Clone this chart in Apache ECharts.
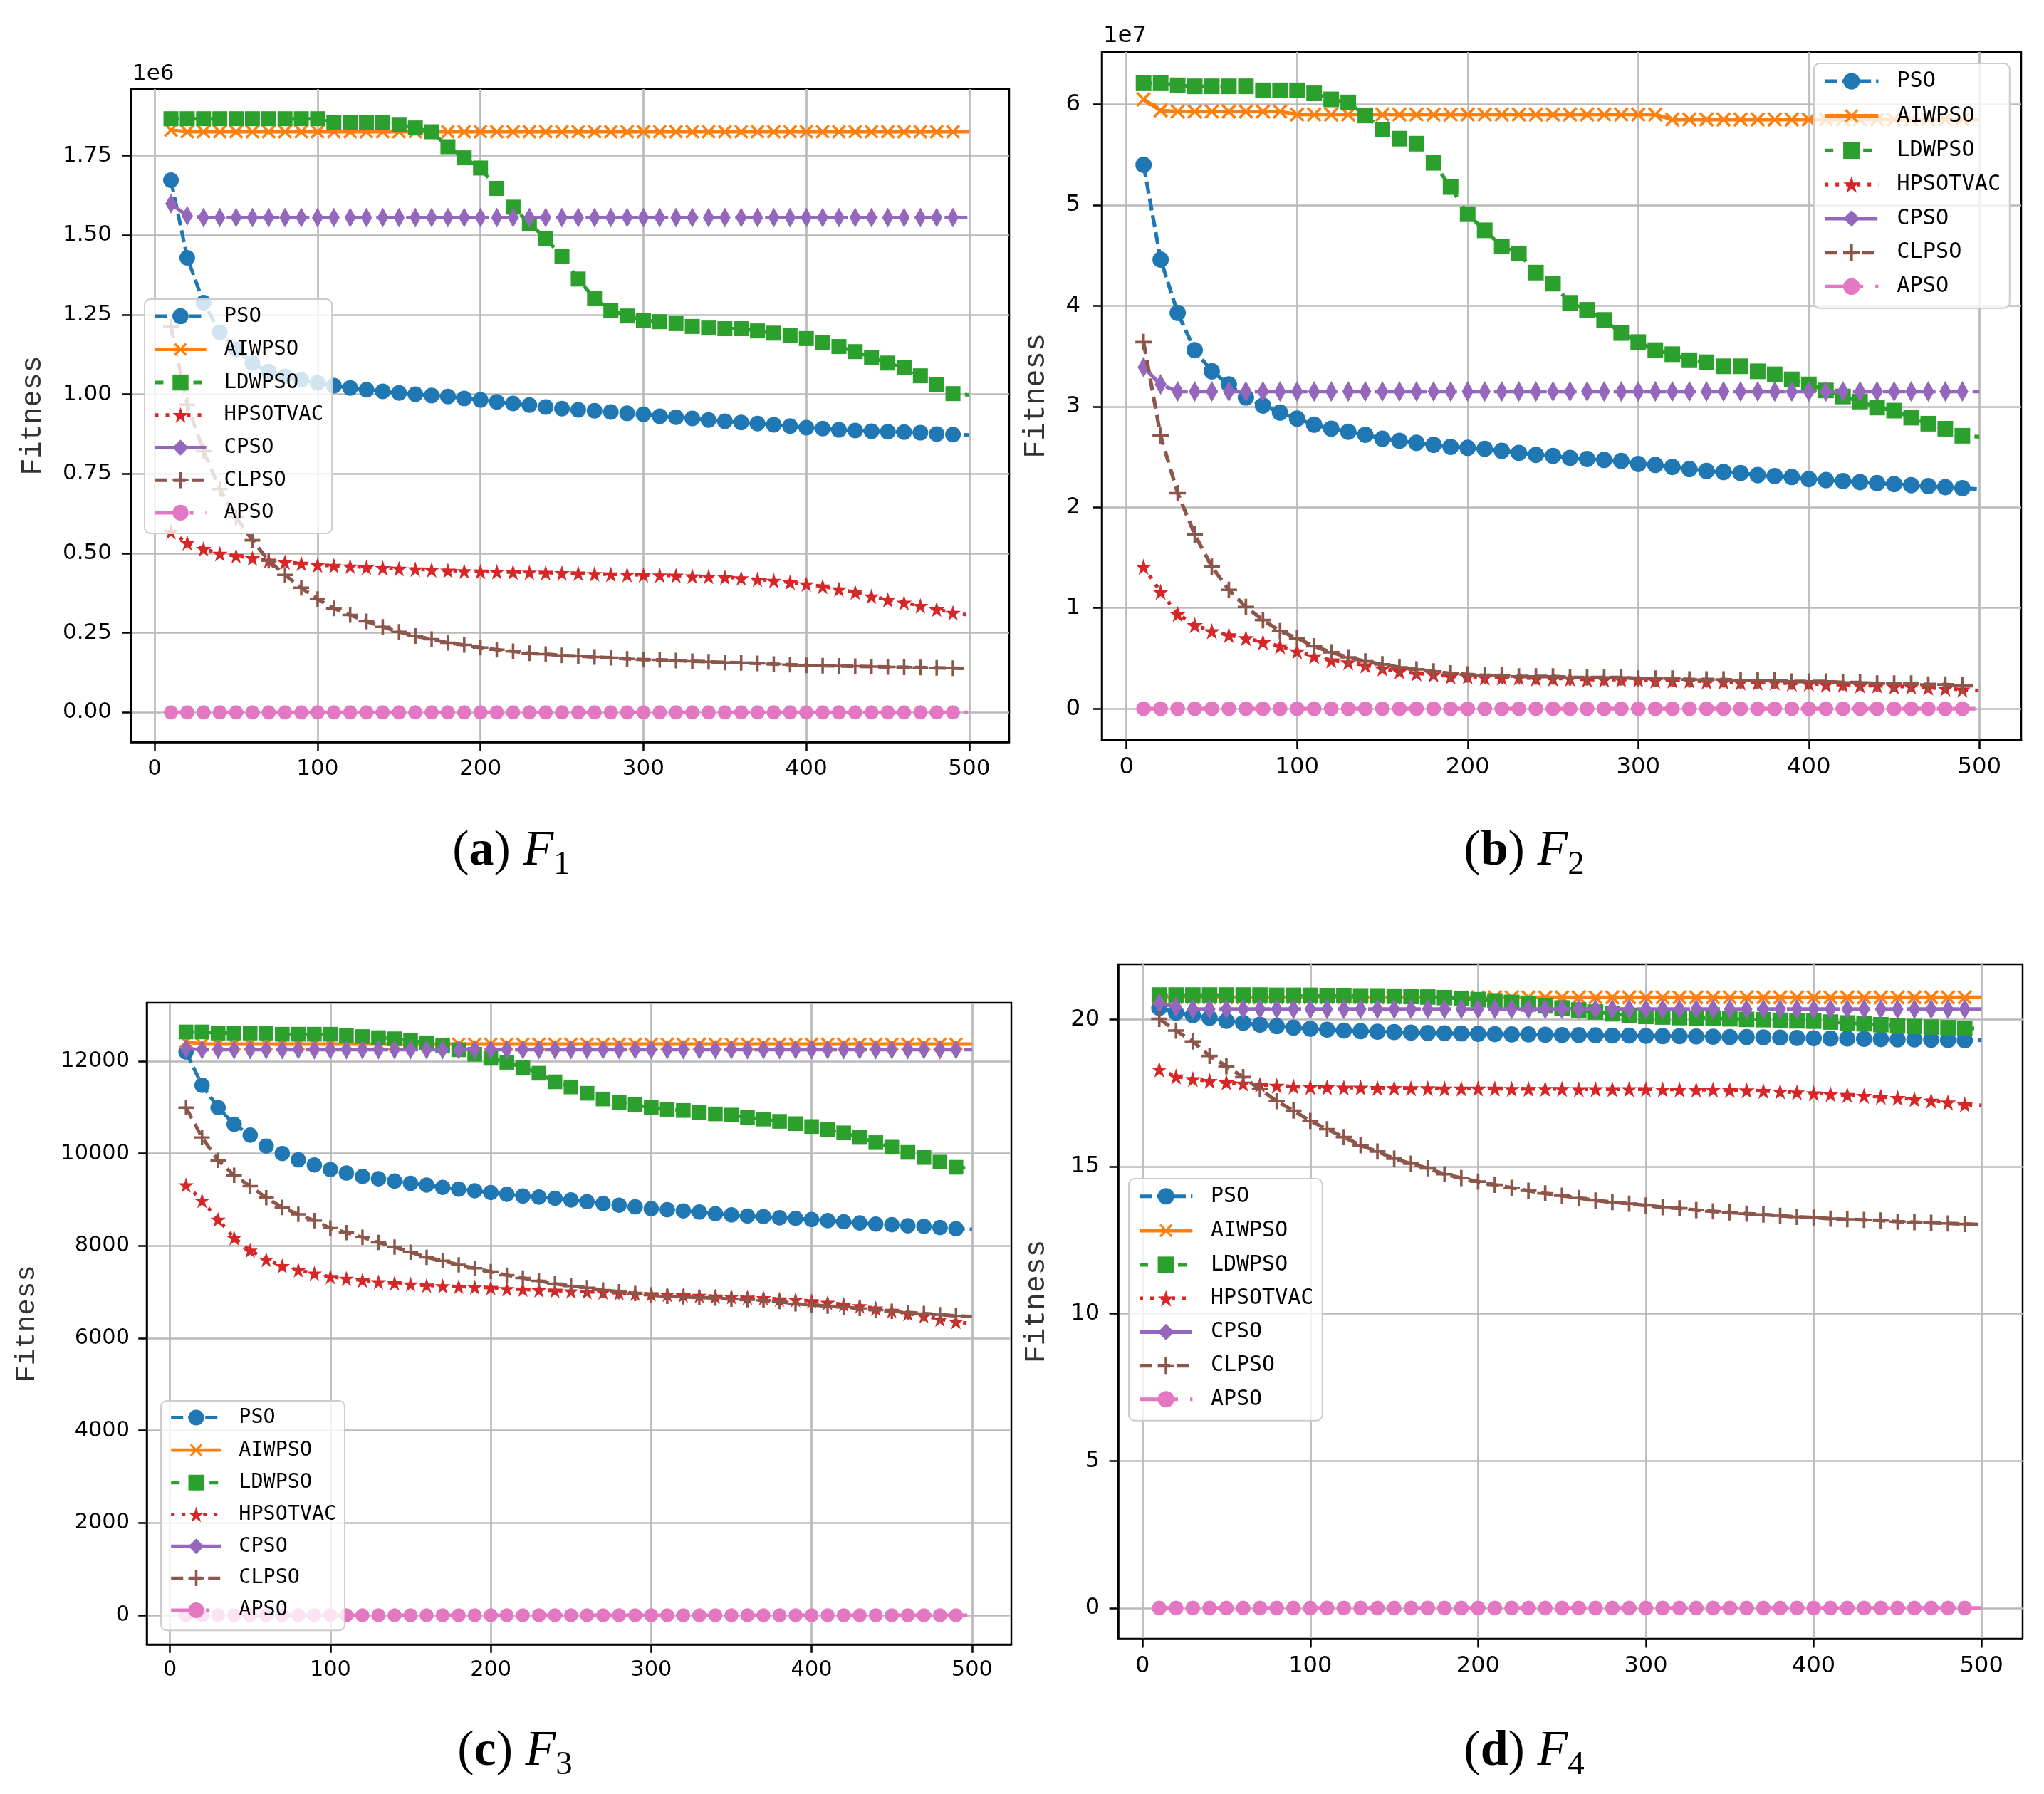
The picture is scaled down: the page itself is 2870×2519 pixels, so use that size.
<!DOCTYPE html>
<html lang="en">
<head>
<meta charset="UTF-8">
<script src="https://cdn.jsdelivr.net/npm/echarts@6/dist/echarts.min.js"></script>
<style>
  html, body { margin: 0; padding: 0; background: #fff; }
  #container { width: 2870px; height: 2519px; }
</style>
</head>
<body>
<div id="container"></div>
<script>
// iterations where the curves are sampled (marker every 10)
var iters = [10, 20, 30, 40, 50, 60, 70, 80, 90, 100,
  110, 120, 130, 140, 150, 160, 170, 180, 190, 200,
  210, 220, 230, 240, 250, 260, 270, 280, 290, 300,
  310, 320, 330, 340, 350, 360, 370, 380, 390, 400,
  410, 420, 430, 440, 450, 460, 470, 480, 490, 500];

var algos = ['PSO', 'AIWPSO', 'LDWPSO', 'HPSOTVAC', 'CPSO', 'CLPSO', 'APSO'];
var xTicks = [0, 100, 200, 300, 400, 500];

// ---- F1 (values in units of 1e6) ----
var yTicksF1 = [0, 0.25, 0.5, 0.75, 1.0, 1.25, 1.5, 1.75];
var f1PSO = [1.673, 1.429, 1.288, 1.195, 1.141, 1.098, 1.071, 1.056, 1.045, 1.036,
  1.027, 1.020, 1.014, 1.009, 1.004, 1.000, 0.996, 0.993, 0.987, 0.982,
  0.976, 0.971, 0.966, 0.960, 0.955, 0.951, 0.948, 0.944, 0.940, 0.937,
  0.931, 0.928, 0.924, 0.919, 0.915, 0.911, 0.908, 0.904, 0.900, 0.895,
  0.892, 0.888, 0.886, 0.884, 0.882, 0.881, 0.879, 0.875, 0.873, 0.872];
var f1AIWPSO = [1.830, 1.825, 1.825, 1.825, 1.825, 1.825, 1.825, 1.825, 1.825, 1.825,
  1.825, 1.825, 1.825, 1.825, 1.825, 1.825, 1.825, 1.825, 1.825, 1.825,
  1.825, 1.825, 1.825, 1.825, 1.825, 1.825, 1.825, 1.825, 1.825, 1.825,
  1.825, 1.825, 1.825, 1.825, 1.825, 1.825, 1.825, 1.825, 1.825, 1.825,
  1.825, 1.825, 1.825, 1.825, 1.825, 1.825, 1.825, 1.825, 1.825, 1.825];
var f1LDWPSO = [1.866, 1.866, 1.866, 1.866, 1.866, 1.866, 1.866, 1.866, 1.866, 1.866,
  1.853, 1.853, 1.853, 1.853, 1.848, 1.837, 1.825, 1.778, 1.743, 1.711,
  1.647, 1.588, 1.537, 1.490, 1.434, 1.362, 1.300, 1.264, 1.246, 1.233,
  1.228, 1.222, 1.213, 1.208, 1.206, 1.206, 1.199, 1.192, 1.184, 1.175,
  1.163, 1.150, 1.134, 1.116, 1.098, 1.083, 1.058, 1.031, 1.002, 0.998];
var f1HPSOTVAC = [0.568, 0.533, 0.514, 0.499, 0.492, 0.485, 0.477, 0.472, 0.468, 0.463,
  0.461, 0.459, 0.456, 0.454, 0.452, 0.450, 0.448, 0.446, 0.444, 0.443,
  0.442, 0.441, 0.440, 0.439, 0.438, 0.437, 0.435, 0.434, 0.433, 0.432,
  0.431, 0.430, 0.428, 0.427, 0.425, 0.422, 0.418, 0.414, 0.409, 0.403,
  0.396, 0.387, 0.378, 0.365, 0.354, 0.345, 0.335, 0.324, 0.313, 0.306];
var f1CPSO = [1.599, 1.561, 1.555, 1.555, 1.555, 1.555, 1.555, 1.555, 1.555, 1.555,
  1.555, 1.555, 1.555, 1.555, 1.555, 1.555, 1.555, 1.555, 1.555, 1.555,
  1.555, 1.555, 1.555, 1.555, 1.555, 1.555, 1.555, 1.555, 1.555, 1.555,
  1.555, 1.555, 1.555, 1.555, 1.555, 1.555, 1.555, 1.555, 1.555, 1.555,
  1.555, 1.555, 1.555, 1.555, 1.555, 1.555, 1.555, 1.555, 1.555, 1.555];
var f1CLPSO = [1.213, 0.967, 0.821, 0.702, 0.613, 0.541, 0.477, 0.432, 0.392, 0.356,
  0.327, 0.306, 0.286, 0.269, 0.253, 0.240, 0.230, 0.219, 0.212, 0.204,
  0.197, 0.192, 0.186, 0.183, 0.179, 0.177, 0.174, 0.172, 0.168, 0.166,
  0.165, 0.163, 0.161, 0.159, 0.157, 0.156, 0.154, 0.152, 0.150, 0.148,
  0.147, 0.146, 0.145, 0.144, 0.143, 0.142, 0.141, 0.140, 0.139, 0.138];
var f1APSO = [0, 0, 0, 0, 0, 0, 0, 0, 0, 0, 0, 0, 0, 0, 0, 0, 0, 0, 0, 0, 0, 0, 0, 0, 0,
  0, 0, 0, 0, 0, 0, 0, 0, 0, 0, 0, 0, 0, 0, 0, 0, 0, 0, 0, 0, 0, 0, 0, 0, 0];

// ---- F2 (values in units of 1e7) ----
var yTicksF2 = [0, 1, 2, 3, 4, 5, 6];
var f2PSO = [5.40, 4.46, 3.93, 3.56, 3.35, 3.22, 3.09, 3.01, 2.94, 2.88,
  2.82, 2.78, 2.75, 2.72, 2.68, 2.66, 2.64, 2.62, 2.60, 2.59,
  2.58, 2.56, 2.54, 2.52, 2.51, 2.49, 2.48, 2.47, 2.46, 2.43,
  2.42, 2.40, 2.38, 2.36, 2.35, 2.34, 2.32, 2.31, 2.30, 2.28,
  2.27, 2.26, 2.25, 2.24, 2.23, 2.22, 2.21, 2.20, 2.19, 2.18];
var f2AIWPSO = [6.05, 5.94, 5.93, 5.93, 5.93, 5.93, 5.93, 5.93, 5.93, 5.90,
  5.90, 5.90, 5.90, 5.90, 5.90, 5.90, 5.90, 5.90, 5.90, 5.90,
  5.90, 5.90, 5.90, 5.90, 5.90, 5.90, 5.90, 5.90, 5.90, 5.90,
  5.90, 5.85, 5.85, 5.85, 5.85, 5.85, 5.85, 5.85, 5.85, 5.85,
  5.85, 5.85, 5.85, 5.85, 5.85, 5.85, 5.85, 5.85, 5.85, 5.85];
var f2LDWPSO = [6.21, 6.21, 6.19, 6.18, 6.18, 6.18, 6.18, 6.14, 6.14, 6.14,
  6.11, 6.05, 6.02, 5.89, 5.75, 5.66, 5.61, 5.42, 5.18, 4.91,
  4.75, 4.59, 4.52, 4.33, 4.22, 4.03, 3.96, 3.86, 3.73, 3.64,
  3.56, 3.52, 3.46, 3.44, 3.40, 3.40, 3.35, 3.32, 3.27, 3.22,
  3.16, 3.10, 3.05, 2.99, 2.96, 2.89, 2.83, 2.78, 2.71, 2.70];
var f2HPSOTVAC = [1.41, 1.16, 0.94, 0.83, 0.77, 0.73, 0.70, 0.66, 0.62, 0.57,
  0.52, 0.48, 0.46, 0.43, 0.40, 0.37, 0.35, 0.34, 0.32, 0.32,
  0.31, 0.31, 0.31, 0.30, 0.30, 0.30, 0.29, 0.29, 0.29, 0.29,
  0.28, 0.28, 0.28, 0.27, 0.27, 0.26, 0.26, 0.26, 0.25, 0.25,
  0.24, 0.24, 0.23, 0.23, 0.22, 0.22, 0.21, 0.20, 0.19, 0.18];
var f2CPSO = [3.39, 3.22, 3.15, 3.15, 3.15, 3.15, 3.15, 3.15, 3.15, 3.15,
  3.15, 3.15, 3.15, 3.15, 3.15, 3.15, 3.15, 3.15, 3.15, 3.15,
  3.15, 3.15, 3.15, 3.15, 3.15, 3.15, 3.15, 3.15, 3.15, 3.15,
  3.15, 3.15, 3.15, 3.15, 3.15, 3.15, 3.15, 3.15, 3.15, 3.15,
  3.15, 3.15, 3.15, 3.15, 3.15, 3.15, 3.15, 3.15, 3.15, 3.15];
var f2CLPSO = [3.64, 2.71, 2.14, 1.73, 1.41, 1.18, 1.01, 0.88, 0.77, 0.70,
  0.62, 0.56, 0.51, 0.47, 0.44, 0.41, 0.39, 0.37, 0.35, 0.34,
  0.33, 0.33, 0.32, 0.32, 0.32, 0.31, 0.31, 0.31, 0.31, 0.30,
  0.30, 0.30, 0.29, 0.29, 0.29, 0.28, 0.28, 0.28, 0.27, 0.27,
  0.27, 0.26, 0.26, 0.25, 0.25, 0.25, 0.24, 0.24, 0.23, 0.23];
var f2APSO = [0, 0, 0, 0, 0, 0, 0, 0, 0, 0, 0, 0, 0, 0, 0, 0, 0, 0, 0, 0, 0, 0, 0, 0, 0,
  0, 0, 0, 0, 0, 0, 0, 0, 0, 0, 0, 0, 0, 0, 0, 0, 0, 0, 0, 0, 0, 0, 0, 0, 0];

// ---- F3 ----
var yTicksF3 = [0, 2000, 4000, 6000, 8000, 10000, 12000];
var f3PSO = [12200, 11478, 10994, 10634, 10398, 10161, 10000, 9863, 9752, 9652,
  9578, 9503, 9453, 9404, 9354, 9317, 9267, 9230, 9193, 9155,
  9118, 9081, 9056, 9031, 8994, 8957, 8919, 8882, 8845, 8807,
  8783, 8758, 8733, 8696, 8671, 8646, 8634, 8609, 8596, 8571,
  8547, 8522, 8497, 8472, 8460, 8435, 8422, 8398, 8373, 8360];
var f3AIWPSO = [12420, 12370, 12370, 12370, 12370, 12370, 12370, 12370, 12370, 12370,
  12370, 12370, 12370, 12370, 12370, 12370, 12370, 12370, 12370, 12370,
  12370, 12370, 12370, 12370, 12370, 12370, 12370, 12370, 12370, 12370,
  12370, 12370, 12370, 12370, 12370, 12370, 12370, 12370, 12370, 12370,
  12370, 12370, 12370, 12370, 12370, 12370, 12370, 12370, 12370, 12370];
var f3LDWPSO = [12633, 12633, 12609, 12609, 12609, 12609, 12584, 12584, 12584, 12584,
  12559, 12534, 12510, 12485, 12447, 12398, 12335, 12248, 12149, 12062,
  11975, 11863, 11739, 11553, 11441, 11304, 11180, 11106, 11056, 10994,
  10957, 10932, 10894, 10857, 10832, 10783, 10745, 10696, 10646, 10584,
  10522, 10447, 10348, 10236, 10137, 10025, 9913, 9814, 9702, 9680];
var f3HPSOTVAC = [9317, 8981, 8571, 8174, 7901, 7702, 7565, 7478, 7404, 7329,
  7292, 7255, 7217, 7193, 7168, 7143, 7130, 7118, 7106, 7093,
  7068, 7056, 7043, 7031, 7019, 7006, 6994, 6981, 6969, 6957,
  6944, 6932, 6919, 6907, 6894, 6882, 6870, 6845, 6832, 6807,
  6770, 6733, 6696, 6646, 6596, 6534, 6484, 6410, 6360, 6311];
var f3CPSO = [12273, 12248, 12248, 12248, 12248, 12248, 12248, 12248, 12248, 12248,
  12248, 12248, 12248, 12248, 12248, 12248, 12248, 12248, 12248, 12248,
  12248, 12248, 12248, 12248, 12248, 12248, 12248, 12248, 12248, 12248,
  12248, 12248, 12248, 12248, 12248, 12248, 12248, 12248, 12248, 12248,
  12248, 12248, 12248, 12248, 12248, 12248, 12248, 12248, 12248, 12248];
var f3CLPSO = [10994, 10348, 9851, 9528, 9292, 9043, 8832, 8683, 8547, 8385,
  8286, 8186, 8075, 7975, 7863, 7752, 7677, 7590, 7516, 7441,
  7366, 7304, 7242, 7180, 7130, 7093, 7043, 7006, 6969, 6932,
  6907, 6894, 6882, 6870, 6845, 6832, 6820, 6795, 6745, 6720,
  6696, 6671, 6646, 6609, 6584, 6559, 6534, 6509, 6484, 6472];
var f3APSO = [0, 0, 0, 0, 0, 0, 0, 0, 0, 0, 0, 0, 0, 0, 0, 0, 0, 0, 0, 0, 0, 0, 0, 0, 0,
  0, 0, 0, 0, 0, 0, 0, 0, 0, 0, 0, 0, 0, 0, 0, 0, 0, 0, 0, 0, 0, 0, 0, 0, 0];

// ---- F4 ----
var yTicksF4 = [0, 5, 10, 15, 20];
var f4PSO = [20.39, 20.23, 20.14, 20.05, 19.95, 19.88, 19.82, 19.77, 19.72, 19.68,
  19.65, 19.62, 19.60, 19.58, 19.57, 19.55, 19.54, 19.53, 19.52, 19.51,
  19.50, 19.49, 19.49, 19.48, 19.47, 19.47, 19.46, 19.45, 19.45, 19.44,
  19.43, 19.43, 19.42, 19.41, 19.40, 19.40, 19.39, 19.38, 19.37, 19.36,
  19.35, 19.35, 19.34, 19.33, 19.32, 19.32, 19.31, 19.30, 19.29, 19.29];
var f4AIWPSO = [20.75, 20.75, 20.75, 20.75, 20.75, 20.75, 20.75, 20.75, 20.75, 20.75,
  20.75, 20.75, 20.75, 20.75, 20.75, 20.75, 20.75, 20.75, 20.75, 20.75,
  20.75, 20.75, 20.75, 20.75, 20.75, 20.75, 20.75, 20.75, 20.75, 20.75,
  20.75, 20.75, 20.75, 20.75, 20.75, 20.75, 20.75, 20.75, 20.75, 20.75,
  20.75, 20.75, 20.75, 20.75, 20.75, 20.75, 20.75, 20.75, 20.75, 20.75];
var f4LDWPSO = [20.83, 20.83, 20.83, 20.83, 20.83, 20.83, 20.83, 20.82, 20.82, 20.82,
  20.81, 20.81, 20.80, 20.80, 20.79, 20.78, 20.76, 20.74, 20.71, 20.67,
  20.63, 20.58, 20.52, 20.46, 20.39, 20.32, 20.25, 20.19, 20.14, 20.10,
  20.08, 20.06, 20.05, 20.04, 20.02, 20.00, 19.99, 19.97, 19.95, 19.94,
  19.91, 19.88, 19.85, 19.82, 19.78, 19.76, 19.74, 19.72, 19.70, 19.69];
var f4HPSOTVAC = [18.30, 18.06, 17.97, 17.91, 17.86, 17.82, 17.78, 17.75, 17.72, 17.70,
  17.69, 17.68, 17.68, 17.67, 17.67, 17.66, 17.66, 17.65, 17.65, 17.65,
  17.65, 17.64, 17.64, 17.64, 17.64, 17.63, 17.63, 17.63, 17.63, 17.63,
  17.62, 17.62, 17.61, 17.61, 17.60, 17.59, 17.57, 17.55, 17.52, 17.49,
  17.46, 17.43, 17.40, 17.37, 17.33, 17.29, 17.24, 17.18, 17.11, 17.08];
var f4CPSO = [20.55, 20.42, 20.35, 20.35, 20.35, 20.35, 20.35, 20.35, 20.35, 20.35,
  20.35, 20.35, 20.35, 20.35, 20.35, 20.35, 20.35, 20.35, 20.35, 20.35,
  20.35, 20.35, 20.35, 20.35, 20.35, 20.35, 20.35, 20.35, 20.35, 20.35,
  20.35, 20.35, 20.35, 20.35, 20.35, 20.35, 20.35, 20.35, 20.35, 20.35,
  20.35, 20.35, 20.35, 20.35, 20.35, 20.35, 20.35, 20.35, 20.35, 20.35];
var f4CLPSO = [20.02, 19.62, 19.25, 18.76, 18.41, 18.04, 17.63, 17.22, 16.90, 16.55,
  16.27, 16.00, 15.72, 15.51, 15.27, 15.10, 14.94, 14.74, 14.61, 14.49,
  14.38, 14.28, 14.18, 14.09, 14.01, 13.93, 13.85, 13.79, 13.74, 13.68,
  13.62, 13.58, 13.52, 13.48, 13.44, 13.40, 13.37, 13.33, 13.29, 13.27,
  13.23, 13.21, 13.19, 13.17, 13.13, 13.11, 13.09, 13.07, 13.05, 13.03];
var f4APSO = [0, 0, 0, 0, 0, 0, 0, 0, 0, 0, 0, 0, 0, 0, 0, 0, 0, 0, 0, 0, 0, 0, 0, 0, 0,
  0, 0, 0, 0, 0, 0, 0, 0, 0, 0, 0, 0, 0, 0, 0, 0, 0, 0, 0, 0, 0, 0, 0, 0, 0];

// marker shapes (matplotlib-like)
var starPath = 'path://M50,0L61.2,34.5L97.6,34.5L68.2,55.9L79.4,90.5L50,69.1L20.6,90.5L31.8,55.9L2.4,34.5L38.8,34.5Z';
var plusPath = 'path://M42,0H58V42H100V58H58V100H42V58H0V42H42Z';
var xPath = 'path://M43,0H57V43H100V57H57V100H43V57H0V43H43Z';

var styles = {
  PSO:      { color: '#1f77b4', dash: [17, 7], symbol: 'circle', size: [22, 22], rot: 0 },
  AIWPSO:   { color: '#ff7f0e', dash: 'solid', symbol: xPath, size: [25, 25], rot: 45 },
  LDWPSO:   { color: '#2ca02c', dash: [12, 15], symbol: 'rect', size: [21, 21], rot: 0 },
  HPSOTVAC: { color: '#d62728', dash: [5, 10], symbol: starPath, size: [22, 22], rot: 0 },
  CPSO:     { color: '#9467bd', dash: [32, 10], symbol: 'diamond', size: [16, 28], rot: 0 },
  CLPSO:    { color: '#8c564b', dash: [17, 9], symbol: plusPath, size: [22, 22], rot: 0 },
  APSO:     { color: '#e377c2', dash: [32, 17, 5, 17], symbol: 'circle', size: [20, 20], rot: 0 }
};

var panels = [
  { values: [f1PSO, f1AIWPSO, f1LDWPSO, f1HPSOTVAC, f1CPSO, f1CLPSO, f1APSO], ticks: yTicksF1, dec: 2, exp: '1e6',
    grid: { left: 184, top: 125, width: 1233, height: 917 }, s: 1.0, nameGap: 118, lab: 27,
    legend: { left: 203, top: 420 }, cap: { x: 718, y: 1196, letter: 'a', num: '1' } },
  { values: [f2PSO, f2AIWPSO, f2LDWPSO, f2HPSOTVAC, f2CPSO, f2CLPSO, f2APSO], ticks: yTicksF2, dec: 0, exp: '1e7',
    grid: { left: 1547, top: 73, width: 1291, height: 966 }, s: 1.045, nameGap: 71, lab: 30,
    legend: { left: 2547, top: 89 }, cap: { x: 2140, y: 1196, letter: 'b', num: '2' } },
  { values: [f3PSO, f3AIWPSO, f3LDWPSO, f3HPSOTVAC, f3CPSO, f3CLPSO, f3APSO], ticks: yTicksF3, dec: 0, exp: '',
    grid: { left: 206, top: 1408, width: 1214, height: 901 }, s: 0.98, nameGap: 149, lab: 24,
    legend: { left: 226, top: 1967 }, cap: { x: 723, y: 2460, letter: 'c', num: '3' } },
  { values: [f4PSO, f4AIWPSO, f4LDWPSO, f4HPSOTVAC, f4CPSO, f4CLPSO, f4APSO], ticks: yTicksF4, dec: 0, exp: '',
    grid: { left: 1570, top: 1354, width: 1270, height: 947 }, s: 1.033, nameGap: 94, lab: 26,
    legend: { left: 1585, top: 1655 }, cap: { x: 2140, y: 2460, letter: 'd', num: '4' } }
];

var grids = [], xAxes = [], yAxes = [], series = [], legends = [], graphics = [];

panels.forEach(function (p, i) {
  var s = p.s;
  // matplotlib-style 5% margins
  var lo = Infinity, hi = -Infinity;
  p.values.forEach(function (arr) {
    arr.forEach(function (v) { lo = Math.min(lo, v); hi = Math.max(hi, v); });
  });
  var pad = (hi - lo) * 0.05;
  var xPad = (iters[iters.length - 1] - iters[0]) * 0.05;

  grids.push({
    left: p.grid.left, top: p.grid.top, width: p.grid.width, height: p.grid.height,
    show: true, borderColor: '#000', borderWidth: 2.5, backgroundColor: 'transparent'
  });

  xAxes.push({
    gridIndex: i, type: 'value', min: iters[0] - xPad, max: iters[iters.length - 1] + xPad,
    axisLine: { show: true, onZero: false, lineStyle: { color: '#000', width: 2.5 } },
    axisTick: { show: true, length: 12 * s, lineStyle: { color: '#000', width: 2.5 }, customValues: xTicks },
    axisLabel: { customValues: xTicks, fontFamily: 'DejaVu Sans', fontSize: 31 * s, color: '#000', margin: 22 * s },
    splitLine: { show: true, lineStyle: { color: '#bababa', width: 2.7 } }
  });

  yAxes.push({
    gridIndex: i, type: 'value', min: lo - pad, max: hi + pad,
    axisLine: { show: true, onZero: false, lineStyle: { color: '#000', width: 2.5 } },
    axisTick: { show: true, length: 12 * s, lineStyle: { color: '#000', width: 2.5 }, customValues: p.ticks },
    axisLabel: {
      customValues: p.ticks, fontFamily: 'DejaVu Sans', fontSize: 31 * s, color: '#000', margin: p.lab,
      formatter: (function (dec) { return function (v) { return Number(v).toFixed(dec); }; })(p.dec)
    },
    splitLine: { show: true, lineStyle: { color: '#bababa', width: 2.7 } },
    name: 'Fitness', nameLocation: 'middle', nameGap: p.nameGap,
    nameTextStyle: { fontFamily: 'Liberation Mono', fontSize: 40 * s, color: '#333' }
  });

  algos.forEach(function (name, k) {
    var st = styles[name];
    var vals = p.values[k];
    var data = iters.map(function (x, j) {
      if (j === iters.length - 1) return { value: [x, vals[j]], symbol: 'none' };
      return [x, vals[j]];
    });
    series.push({
      type: 'line', name: name, xAxisIndex: i, yAxisIndex: i, data: data,
      symbol: st.symbol, symbolSize: [st.size[0] * s, st.size[1] * s], symbolRotate: st.rot,
      showSymbol: true, showAllSymbol: true,
      lineStyle: { color: st.color, width: 5 * s, type: st.dash },
      itemStyle: { color: st.color, borderWidth: 0 },
      emphasis: { disabled: true },
      z: 2 + k * 0.01
    });
  });

  legends.push({
    orient: 'vertical', left: p.legend.left, top: p.legend.top, data: algos,
    itemWidth: 72 * s, itemHeight: 28 * s, itemGap: 15.7 * s,
    padding: [9 * s, 12 * s, 14 * s, 12 * s],
    backgroundColor: 'rgba(255,255,255,0.8)', borderColor: '#cccccc', borderWidth: 2, borderRadius: 8,
    selectedMode: false,
    lineStyle: { width: 5 * s },
    textStyle: { fontFamily: 'DejaVu Sans Mono', fontSize: 29 * s, lineHeight: 30 * s, color: '#000', padding: [0, 0, 0, 20 * s] }
  });

  if (p.exp) {
    graphics.push({
      type: 'text', x: p.grid.left + 2, y: p.grid.top - 6,
      style: { text: p.exp, font: (31 * s) + 'px "DejaVu Sans"', fill: '#000',
        textAlign: 'left', textVerticalAlign: 'bottom', align: 'left', verticalAlign: 'bottom' }
    });
  }

  graphics.push({
    type: 'text', x: p.cap.x, y: p.cap.y,
    style: {
      text: '{n|(}{b|' + p.cap.letter + '}{n|) }{i|F}{s|' + p.cap.num + '}',
      textAlign: 'center', textVerticalAlign: 'middle', align: 'center', verticalAlign: 'middle',
      fill: '#000',
      rich: {
        n: { fontFamily: 'Liberation Serif', fontSize: 70, lineHeight: 84, color: '#000' },
        b: { fontFamily: 'Liberation Serif', fontSize: 70, fontWeight: 'bold', lineHeight: 84, color: '#000' },
        i: { fontFamily: 'Liberation Serif', fontSize: 70, fontStyle: 'italic', lineHeight: 84, color: '#000' },
        s: { fontFamily: 'Liberation Serif', fontSize: 47, lineHeight: 36, verticalAlign: 'bottom', color: '#000' }
      }
    }
  });
});

var myChart = echarts.init(document.getElementById('container'), null, { renderer: 'canvas', devicePixelRatio: 1 });
var option = {
  animation: false,
  backgroundColor: '#ffffff',
  grid: grids,
  xAxis: xAxes,
  yAxis: yAxes,
  legend: legends,
  series: series,
  graphic: graphics
};
myChart.setOption(option);
</script>
</body>
</html>
